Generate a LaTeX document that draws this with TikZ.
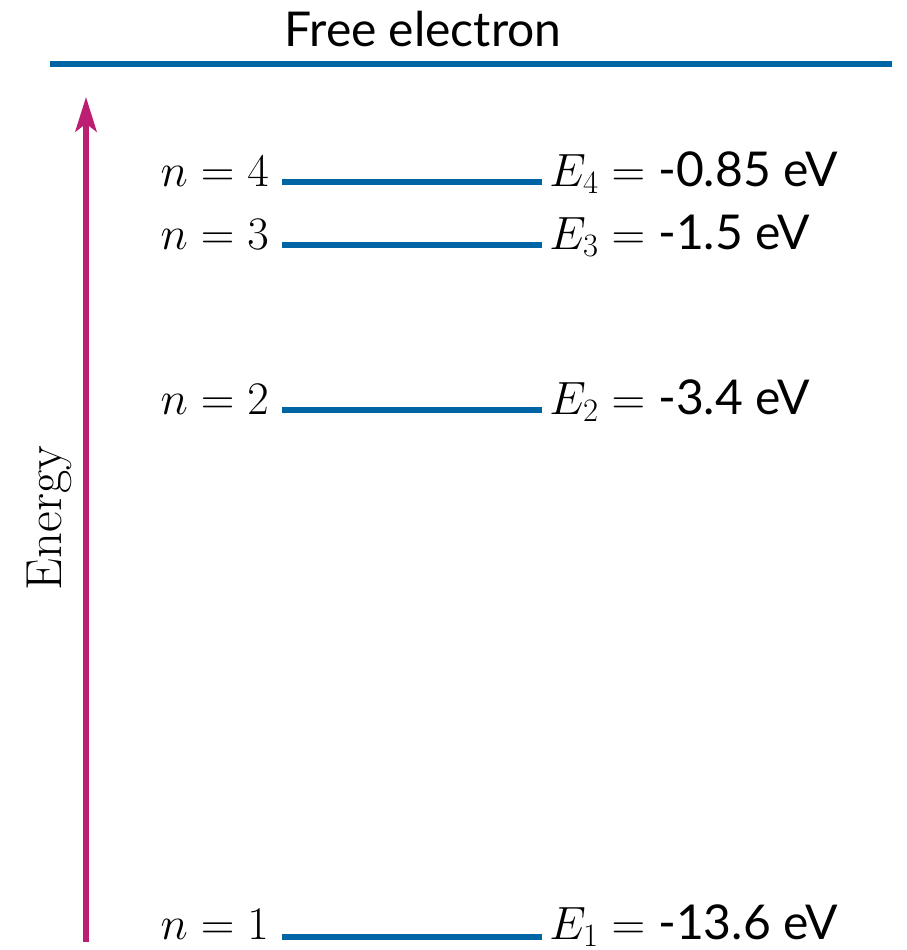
\RequirePackage{fix-cm}
\documentclass[tikz,border=0pt]{standalone}
\usepackage[no-math]{fontspec}
\newfontfamily\lato{Lato}
\usetikzlibrary{arrows.meta}
\definecolor{levelblue}{RGB}{0,101,164}
\definecolor{energymag}{RGB}{188,31,114}
\begin{document}
\begin{tikzpicture}[x=0.75pt,y=-0.75pt,
  level/.style={draw=levelblue,line width=3.8pt},
  lbl/.style={inner sep=0pt,font=\fontsize{35}{40}\selectfont},
  nlbl/.style={lbl,anchor=base east},
  elbl/.style={lbl,anchor=base west}]
\useasboundingbox (0,0) rectangle (907,950);
% free electron
\node[lbl,anchor=base,font=\fontsize{36}{42}\selectfont\lato] (free) at (423,46) {Free electron};
\coordinate (fl) at (50,64);
\coordinate (fr) at (892,64);
\draw[level] (fl) -- (fr);
% energy arrow
\coordinate (ab) at (86,942);
\coordinate (at) at (86,97);
\draw[draw=energymag,line width=4pt,-{Stealth[length=26pt,width=16pt,inset=6pt]}] (ab) -- (at);
\node[lbl,rotate=90,font=\fontsize{38}{42}\selectfont] (energy) at (49,518) {Energy};
% levels
\foreach \k/\y/\d/\v in {4/182/4/-0.85,3/245/4/-1.5,2/410/4/-3.4,1/937/2/-13.6}{
  \coordinate (l\k) at (282,\y);
  \coordinate (r\k) at (542,\y);
  \draw[level] (l\k) -- (r\k);
  \node[nlbl] (n\k) at (269,\y+\d) {$n=\k$};
  \node[elbl] (e\k) at (549,\y+\d) {$E_{\k}={}${\fontsize{36}{42}\selectfont\lato\v\ eV}};
}
\end{tikzpicture}
\end{document}
